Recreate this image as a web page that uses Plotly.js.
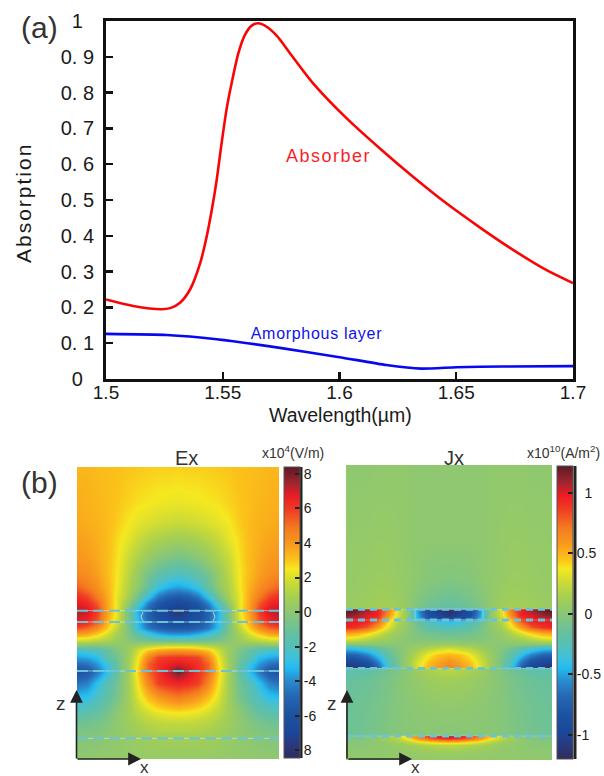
<!DOCTYPE html>
<html>
<head>
<meta charset="utf-8">
<script src="https://cdn.plot.ly/plotly-3.0.1.min.js"></script>
<style>
html,body{margin:0;padding:0;background:#fff}
#chart{width:604px;height:776px}
.annotation[data-index="2"] text{letter-spacing:1.5px}
.annotation[data-index="3"] text{letter-spacing:.7px}
.annotation[data-index="4"] text{letter-spacing:2px}
</style>
</head>
<body>
<div id="chart"></div>
<script>
// ---- Panel (a) absorption spectra ----
const absorberWl = [1.5,1.5117,1.5238,1.5275,1.5317,1.536,1.5403,1.5431,1.5453,1.5474,1.5495,1.5517,1.5538,1.5567,1.5595,1.5624,1.5652,1.5688,1.5731,1.5788,1.5887,1.6031,1.6173,1.6315,1.6459,1.6602,1.6745,1.6887,1.7];
const absorberA  = [0.222,0.204,0.195,0.198,0.213,0.25,0.323,0.3975,0.472,0.556,0.658,0.756,0.826,0.91,0.961,0.987,0.9936,0.984,0.959,0.91,0.826,0.728,0.644,0.565,0.49,0.423,0.36,0.304,0.268];
const amorphousWl = [1.5,1.526,1.5474,1.5745,1.6,1.62,1.635,1.65,1.67,1.7];
const amorphousA  = [0.126,0.123,0.111,0.087,0.061,0.039,0.029,0.033,0.035,0.036];
const absTickVals = [0,0.1,0.2,0.3,0.4,0.5,0.6,0.7,0.8,0.9,1];
const absTickText = ['0\u00a0\u00a0','0. 1','0. 2','0. 3','0. 4','0. 5','0. 6','0. 7','0. 8','0. 9','1\u00a0\u00a0'];
const wlTickVals = [1.5,1.55,1.6,1.65,1.7];
const wlTickText = ['1.5','1.55','1.6','1.65','1.7'];

// ---- Panel (b) fields: half-width rows, edge to centre ----
const exDepth = [0,109,169,219,269,319,359,389,409,431,465,484,504,519,534,549,569,591,612,649,689,734,769,814,876];
const exHalf = [
 [3.3,3.3,3.2,3.15,3.1,3.0,2.95,2.9,2.85,2.85,2.8],
 [3.5,3.4,3.3,3.15,3.0,2.8,2.6,2.5,2.4,2.35,2.3],
 [3.6,3.5,3.4,3.2,2.9,2.5,2.2,2.0,1.8,1.7,1.6],
 [3.8,3.7,3.5,3.2,2.7,2.2,1.6,1.2,0.9,0.7,0.6],
 [4.0,3.9,3.6,3.2,2.6,1.7,1.0,0.4,-0.1,-0.4,-0.6],
 [4.4,4.2,3.8,3.2,2.5,1.4,0.3,-0.6,-1.3,-1.8,-2.0],
 [5.3,4.8,4.2,3.4,2.4,1.1,0.1,-1.3,-2.6,-3.3,-3.6],
 [6.3,5.8,4.8,3.6,2.2,0.9,-0.9,-2.8,-4.5,-5.3,-5.6],
 [6.8,6.4,5.4,3.7,2.2,0.2,-2,-4.2,-5.6,-6.3,-6.6],
 [7.4,7.1,6.0,3.8,2.2,-0.6,-3.4,-5.2,-6.3,-7.2,-8.2],
 [6.8,6.4,5.4,3.4,1.9,-0.5,-3.1,-4.9,-5.9,-6.4,-6.6],
 [5.6,5.2,4.3,2.9,1.3,-0.5,-3,-4.4,-5.1,-5.5,-5.6],
 [3.5,3.3,2.6,1.8,0.7,-0.3,-1.3,-2.2,-3,-3.4,-3.5],
 [1.9,1.8,1.5,1.1,0.5,-0.1,-0.7,-1,-1.2,-1.3,-1.3],
 [0,-0.1,-0.2,-0.1,0,0.3,0.7,1,1.3,1.5,1.5],
 [-2.4,-2.2,-1.9,-1.2,-0.4,0.4,1.8,3,3.6,3.9,4.0],
 [-3.6,-3.4,-3,-1.6,-0.7,0.5,2.4,4.5,5.8,6,6.1],
 [-4.8,-4.6,-3.8,-2.6,-1.1,0.6,2.7,5.3,6.2,6.6,6.9],
 [-6,-5.7,-4.5,-3,-1.2,0.7,3,5.2,6.2,7.2,8.2],
 [-4.6,-4.2,-3,-1.8,-0.8,0.6,2.6,4.5,5.9,6.3,6.5],
 [-3.1,-2.9,-2.2,-1.4,-0.6,0.6,2.1,3.2,4,4.5,4.8],
 [-1.8,-1.6,-1.3,-0.7,0,0.6,1.4,1.9,2.3,2.5,2.6],
 [-0.9,-0.8,-0.6,-0.3,0.1,0.5,0.9,1.2,1.4,1.5,1.5],
 [-0.3,-0.25,-0.2,0,0.1,0.3,0.5,0.6,0.7,0.7,0.7],
 [0.1,0.1,0.15,0.2,0.2,0.25,0.3,0.3,0.3,0.3,0.3]
];
const jxDepth = [0,225,345,395,432,433,450,465,467,485,505,522,537,550,570,590,608,610,645,725,810,813,821,830,840,860,885];
const jxHalf = [
 [0.02,0.02,0.02,0.03,0.03,0.03,0.03,0.02,0.02,0.02,0.02],
 [0.04,0.05,0.05,0.06,0.06,0.05,0.03,0.02,0.02,0.02,0.02],
 [0.05,0.06,0.07,0.08,0.08,0.06,0.04,0.01,-0.02,-0.03,-0.04],
 [0.06,0.07,0.08,0.1,0.1,0.08,0.03,-0.03,-0.07,-0.1,-0.12],
 [0.08,0.08,0.1,0.12,0.13,0.1,0.03,-0.06,-0.13,-0.16,-0.18],
 [1.25,1.2,1.1,0.98,0.72,0.32,0.02,-0.55,-0.9,-1.1,-1.2],
 [1.15,1.1,1.0,0.95,0.64,0.28,0,-0.5,-0.85,-1.0,-1.1],
 [1.0,0.98,0.95,0.85,0.5,0.2,0,-0.45,-0.7,-0.78,-0.82],
 [1,0.98,0.95,0.8,0.45,0.18,0.02,-0.15,-0.3,-0.4,-0.42],
 [0.95,0.9,0.8,0.58,0.34,0.12,0.02,-0.1,-0.2,-0.25,-0.28],
 [0.56,0.52,0.42,0.3,0.17,0.06,0,-0.06,-0.1,-0.12,-0.13],
 [0.3,0.28,0.2,0.13,0.08,0.03,0,-0.03,-0.04,-0.05,-0.05],
 [0,0,0,0,0,0,0.02,0.03,0.05,0.06,0.07],
 [-0.4,-0.38,-0.3,-0.2,-0.1,-0.02,0.03,0.1,0.18,0.24,0.28],
 [-0.75,-0.72,-0.6,-0.42,-0.2,-0.05,0.08,0.22,0.37,0.47,0.5],
 [-1,-0.95,-0.85,-0.62,-0.3,-0.08,0.1,0.3,0.45,0.55,0.62],
 [-1.2,-1.15,-1.02,-0.75,-0.38,-0.08,0.1,0.33,0.5,0.6,0.68],
 [-0.22,-0.22,-0.2,-0.16,-0.12,-0.05,0.02,0.1,0.16,0.2,0.22],
 [-0.15,-0.14,-0.13,-0.1,-0.07,-0.02,0.02,0.05,0.08,0.1,0.1],
 [-0.13,-0.12,-0.1,-0.08,-0.05,-0.02,0,0.01,0.02,0.03,0.03],
 [-0.12,-0.11,-0.09,-0.07,-0.04,-0.02,0,0,0,-0.01,-0.01],
 [-0.08,-0.06,-0.03,0,0.08,0.25,0.48,0.7,0.9,1.05,1.1],
 [-0.05,-0.04,-0.02,0.02,0.1,0.2,0.35,0.55,0.7,0.8,0.85],
 [-0.02,-0.02,0,0.02,0.06,0.12,0.2,0.3,0.38,0.45,0.48],
 [0,0,0,0.02,0.04,0.06,0.1,0.14,0.18,0.2,0.22],
 [0.02,0.02,0.02,0.03,0.03,0.04,0.05,0.06,0.07,0.08,0.08],
 [0.03,0.03,0.03,0.03,0.03,0.04,0.04,0.04,0.04,0.04,0.04]
];
const exLayers = [431,465,612,814];
const jxLayers = [433,465,610,813];
const exGrating = [[6.55,6.35,6.55],[13.45,13.65,13.45]];
const exGratingDepth = [436,449,462];
const jxBox = [6.7,6.7,13.3,13.3,6.7];
const jxBoxDepth = [433,465,465,433,433];
const jetLike = [
 [0,'#2f2c5a'],[0.05,'#2a3a80'],[0.09,'#1a479a'],[0.15,'#1c52a0'],[0.215,'#2568b5'],[0.27,'#2a8fd0'],
 [0.31,'#22bbf0'],[0.34,'#3cc0e0'],[0.385,'#55c0b8'],[0.43,'#65c0a0'],[0.505,'#8fc86f'],[0.555,'#a8d050'],
 [0.6,'#c8da38'],[0.65,'#f5e820'],[0.68,'#fbc41a'],[0.737,'#f8981d'],[0.79,'#f47a20'],[0.855,'#f03a24'],
 [0.9,'#ed1c24'],[0.944,'#a02530'],[1,'#5b1a22']
];
const exTickVals = [8,6,4,2,0,-2,-4,-6,-8];
const exTickText = ['8','6','4','2','0','-2','-4','-6','8'];
const jxTickVals = [1,0.5,0,-0.5,-1];
const jxTickText = ['\u00a0\u00a01','0.5','\u00a0\u00a00','-0.5','-1'];

// ---- helpers ----
const W = 604, H = 776, FONT = 'Liberation Sans, Arial, sans-serif', INK = '#1a1a1a';
const px = x => x / W, py = y => 1 - y / H;
const mirrorRow = r => r.concat(r.slice(0, -1).reverse());
const columns = Array.from({length: 21}, (_, i) => i);
const hLines = (depths, xa, ya, under, over, wUnder, wOver, dash) => depths.flatMap(d => [
  {type:'scatter',mode:'lines',x:[0,20],y:[d,d],xaxis:xa,yaxis:ya,hoverinfo:'skip',showlegend:false,line:{color:under,width:wUnder}},
  {type:'scatter',mode:'lines',x:[0,20],y:[d,d],xaxis:xa,yaxis:ya,hoverinfo:'skip',showlegend:false,line:{color:over,width:wOver,dash:dash}}
]);
const bar = (x, yTop, yBot, vals, text, size) => ({
  xref:'container', yref:'container', x:px(x), xanchor:'left', y:py(yBot), yanchor:'bottom',
  lenmode:'pixels', len:yBot-yTop, thicknessmode:'pixels', thickness:16, xpad:0, ypad:0,
  outlinecolor:'#555', outlinewidth:1, ticks:'inside', ticklen:5, tickwidth:2, tickcolor:'#222',
  tickmode:'array', tickvals:vals, ticktext:text, tickfont:{family:FONT,size:size,color:INK}, ticklabelposition:'outside'
});
const note = (text, x, y, size, color, extra) => Object.assign({
  text, xref:'paper', yref:'paper', x:px(x), y:py(y), showarrow:false,
  xanchor:'center', yanchor:'middle', font:{family:FONT,size,color}
}, extra||{});
const arrow = (xTip, yTip, ax, ay) => ({
  text:'', xref:'paper', yref:'paper', x:px(xTip), y:py(yTip), axref:'pixel', ayref:'pixel', ax, ay,
  showarrow:true, arrowhead:2, arrowsize:1.6, arrowwidth:1.6, arrowcolor:'#222', standoff:0
});

const traces = [
  {type:'scatter',mode:'lines',name:'Absorber',x:absorberWl,y:absorberA,line:{color:'#fa0505',width:2.6,shape:'spline',smoothing:0.8},xaxis:'x',yaxis:'y'},
  {type:'scatter',mode:'lines',name:'Amorphous layer',x:amorphousWl,y:amorphousA,line:{color:'#0808f0',width:2.6,shape:'spline',smoothing:0.5},xaxis:'x',yaxis:'y'},
  {type:'heatmap',name:'Ex',x:columns,y:exDepth,z:exHalf.map(mirrorRow),zmin:-8.45,zmax:8.4,zsmooth:'best',colorscale:jetLike,xaxis:'x2',yaxis:'y2',
   colorbar:bar(284,467,758,exTickVals,exTickText,14)},
  {type:'heatmap',name:'Jx',x:columns,y:jxDepth,z:jxHalf.map(mirrorRow),zmin:-1.2,zmax:1.22,zsmooth:'best',colorscale:jetLike,xaxis:'x3',yaxis:'y3',
   colorbar:bar(557,466,759,jxTickVals,jxTickText,14)},
  ...exGrating.map(g => ({type:'scatter',mode:'lines',x:g,y:exGratingDepth,xaxis:'x2',yaxis:'y2',hoverinfo:'skip',showlegend:false,line:{color:'rgba(225,240,245,0.6)',width:1.1,shape:'spline'}})),
  {type:'scatter',mode:'lines',x:jxBox,y:jxBoxDepth,xaxis:'x3',yaxis:'y3',hoverinfo:'skip',showlegend:false,line:{color:'rgba(150,215,235,0.5)',width:1.6}},
  ...hLines(exLayers,'x2','y2','rgba(225,240,245,0.55)','#6cc3d6',1,2,'11px,5px'),
  ...hLines(jxLayers,'x3','y3','rgba(200,235,240,0.3)','#6cc3d6',1,2.8,'7px,5px')
];

const hiddenAxis = {visible:false, fixedrange:true, showgrid:false, zeroline:false};
const layout = {
  width:W, height:H, autosize:false, showlegend:false,
  margin:{l:0,r:0,t:0,b:0,pad:0,autoexpand:false},
  paper_bgcolor:'#fff', plot_bgcolor:'#fff', font:{family:FONT,color:INK},
  xaxis:{domain:[px(106),px(573)],range:[1.5,1.7],tickmode:'array',tickvals:wlTickVals,ticktext:wlTickText,
    ticks:'inside',ticklen:7,tickwidth:2.4,tickcolor:'#111',showline:true,mirror:true,linecolor:'#111',linewidth:3,
    showgrid:false,zeroline:false,tickfont:{family:FONT,size:19,color:INK},ticklabelstandoff:-6},
  yaxis:{domain:[py(379),py(21)],range:[0,1],tickmode:'array',tickvals:absTickVals,ticktext:absTickText,
    ticks:'inside',ticklen:7,tickwidth:2.4,tickcolor:'#111',showline:true,mirror:true,linecolor:'#111',linewidth:3,
    showgrid:false,zeroline:false,tickfont:{family:FONT,size:20,color:INK},ticklabelstandoff:5},
  xaxis2:Object.assign({domain:[px(77),px(279)],range:[0,20],anchor:'y2'},hiddenAxis),
  yaxis2:Object.assign({domain:[py(759),py(467)],range:[876,0],anchor:'x2'},hiddenAxis),
  xaxis3:Object.assign({domain:[px(346),px(552)],range:[0,20],anchor:'y3'},hiddenAxis),
  yaxis3:Object.assign({domain:[py(760),py(465)],range:[885,0],anchor:'x3'},hiddenAxis),
  shapes:[
    {type:'line',xref:'paper',yref:'paper',x0:px(301),x1:px(301),y0:py(758),y1:py(467),line:{color:'#222',width:3}},
    {type:'line',xref:'paper',yref:'paper',x0:px(575),x1:px(575),y0:py(759),y1:py(466),line:{color:'#222',width:3}}
  ],
  annotations:[
    note('(a)',39,28,30,'#333'),
    note('(b)',39,482,30,'#333'),
    note('Absorber',328,156,18,'#fa1e2a'),
    note('Amorphous layer',317,333,16,'#1010f0'),
    note('Absorption',24,203,21,INK,{textangle:-90}),
    note('Wavelength(\u00b5m)',340,415,19.5,INK),
    note('Ex',186,458,20,'#333'),
    note('Jx',454,458,20,'#333'),
    note('x10<sup>4</sup>(V/m)',293,452,14,'#333'),
    note('x10<sup>10</sup>(A/m<sup>2</sup>)',563,452,14,'#333'),
    note('z',61,703,19,'#333'),
    note('x',144,767,17,'#333'),
    note('z',332,703,19,'#333'),
    note('x',415,767,17,'#333'),
    arrow(76.5,690,0,70), arrow(141,759,-65,0),
    arrow(347,690,0,70), arrow(412,759,-65,0)
  ]
};
Plotly.newPlot('chart', traces, layout, {displayModeBar:false, staticPlot:true});
</script>
</body>
</html>
